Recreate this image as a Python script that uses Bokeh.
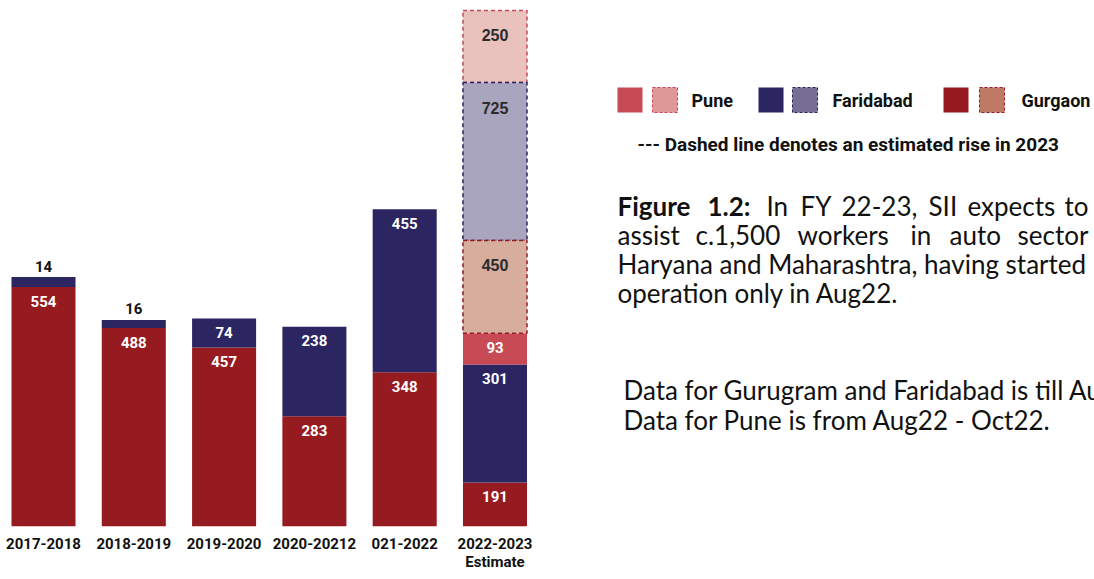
from bokeh.plotting import figure
from bokeh.models import ColumnDataSource, Range1d, FixedTicker, CDSView, BooleanFilter
from bokeh.layouts import row
from bokeh.transform import stack
from bokeh.core.properties import value
from bokeh.embed import file_html
from bokeh.resources import INLINE

# ---------------- data ----------------
categories = ["2017-2018", "2018-2019", "2019-2020", "2020-20212", "021-2022", "2022-2023\nEstimate"]

# values printed on the bars
gurgaon = [554, 488, 457, 283, 348, 191]
faridabad = [14, 16, 74, 238, 455, 301]
pune = [0, 0, 0, 0, 0, 93]
gurgaon_est = [0, 0, 0, 0, 0, 450]
faridabad_est = [0, 0, 0, 0, 0, 725]
pune_est = [0, 0, 0, 0, 0, 250]

# segment heights as drawn in the source (the source chart is not to scale)
gurgaon_drawn = [554, 459, 414, 255, 357, 102]
faridabad_drawn = [23, 19, 67, 207, 377, 273]
pune_drawn = [0, 0, 0, 0, 0, 72]
gurgaon_est_drawn = [0, 0, 0, 0, 0, 215]
faridabad_est_drawn = [0, 0, 0, 0, 0, 365]
pune_est_drawn = [0, 0, 0, 0, 0, 167]

legend_names = ["Pune", "Faridabad", "Gurgaon"]

# ---------------- styles ----------------
GURG = "#961B20"
FARI = "#2B2561"
PUNE = "#C84A55"
GURG_EST = "#D7AE9E"
FARI_EST = "#AAA5BE"
PUNE_EST = "#E9C2BE"
GURG_EST_LEG = "#BF7A66"
FARI_EST_LEG = "#776E96"
PUNE_EST_LEG = "#DE9897"
INK = "#111111"

H = 579
BOTTOM = 53
BAR_W = 0.709
x = list(range(len(categories)))

src = ColumnDataSource(dict(
    x=x, g=gurgaon_drawn, f=faridabad_drawn, pn=pune_drawn,
    ge=gurgaon_est_drawn, fe=faridabad_est_drawn, pe=pune_est_drawn,
))
names = ["g", "f", "pn", "ge", "fe", "pe"]
values = [gurgaon, faridabad, pune, gurgaon_est, faridabad_est, pune_est]
drawn = [gurgaon_drawn, faridabad_drawn, pune_drawn, gurgaon_est_drawn, faridabad_est_drawn, pune_est_drawn]
fills = [GURG, FARI, PUNE, GURG_EST, FARI_EST, PUNE_EST]
borders = [None, None, None, GURG, FARI, PUNE]

p = figure(width=553, height=H, x_range=Range1d(-0.4762, 5.648), y_range=Range1d(0, 1217),
           output_backend="svg", toolbar_location=None,
           min_border_left=0, min_border_right=0, min_border_top=0, min_border_bottom=BOTTOM)
p.outline_line_color = None
p.grid.visible = False
p.yaxis.visible = False

# draw order: solid first, then estimated (pune, faridabad, gurgaon) so dashed borders overlap as in source
order = [0, 1, 2, 5, 4, 3]
for i in order:
    view = CDSView(filter=BooleanFilter([v > 0 for v in drawn[i]]))
    kw = dict(x="x", width=BAR_W, top=stack(*names[:i + 1]), source=src, view=view,
              fill_color=fills[i])
    kw["bottom"] = stack(*names[:i]) if i > 0 else 0
    if borders[i] is None:
        kw["line_color"] = None
    else:
        kw.update(line_color=borders[i], line_width=1.5, line_dash="4 3")
    p.vbar(**kw)

# labels
inside = dict(x=[], y=[], t=[])
est = dict(x=[], y=[], t=[])
above = dict(x=[], y=[], t=[])
for j in x:
    cum = 0
    for i in range(len(names)):
        h = drawn[i][j]
        cum += h
        if values[i][j] <= 0:
            continue
        if i >= 3:
            tgt = est
        elif h < 30:
            tgt = above
        else:
            tgt = inside
        tgt["x"].append(j)
        tgt["y"].append(cum)
        tgt["t"].append(str(values[i][j]))

p.text(x="x", y="y", text="t", source=ColumnDataSource(inside), text_align="center",
       text_baseline="middle", y_offset=14, text_color="white", text_font=value("Roboto"),
       text_font_style="bold", text_font_size="15px")
p.text(x="x", y="y", text="t", source=ColumnDataSource(est), text_align="center",
       text_baseline="middle", y_offset=25, text_color="#2b2b2b", text_font=value("Liberation Sans"),
       text_font_style="bold", text_font_size="16px")
p.text(x="x", y="y", text="t", source=ColumnDataSource(above), text_align="center",
       text_baseline="middle", y_offset=-11, text_color=INK, text_font=value("Roboto"),
       text_font_style="bold", text_font_size="15px")

ax = p.xaxis[0]
ax.ticker = FixedTicker(ticks=x)
ax.major_label_overrides = {i: c for i, c in enumerate(categories)}
ax.axis_line_color = None
ax.major_tick_line_color = None
ax.minor_tick_line_color = None
ax.major_tick_out = 0
ax.major_tick_in = 0
ax.major_label_standoff = 8
ax.major_label_text_font = "Roboto"
ax.major_label_text_font_style = "bold"
ax.major_label_text_font_size = "15px"
ax.major_label_text_color = INK
ax.major_label_text_line_height = 1.0

# ---------------- right panel: legend and caption (coordinates = page pixels) ----------------
q = figure(width=1094 - 553, height=H, x_range=Range1d(553, 1094), y_range=Range1d(H - BOTTOM, 0),
           output_backend="svg", toolbar_location=None,
           min_border_left=0, min_border_right=0, min_border_top=0, min_border_bottom=BOTTOM,
           x_axis_type=None, y_axis_type=None)
q.outline_line_color = None
q.grid.visible = False

# legend swatches
q.quad(left=[617, 758, 943], right=[642, 783, 968], top=[87, 87, 87], bottom=[112, 112, 112],
       fill_color=[PUNE, FARI, GURG], line_color=None)
q.quad(left=[652, 792, 979], right=[677, 817, 1004], top=[87, 87, 87], bottom=[112, 112, 112],
       fill_color=[PUNE_EST_LEG, FARI_EST_LEG, GURG_EST_LEG], line_color=[PUNE, FARI, GURG],
       line_width=1, line_dash="3 2")
q.text(x=[691, 832, 1021], y=[100, 100, 100], text=legend_names, text_baseline="middle",
       text_font=value("Roboto"), text_font_style="bold", text_font_size="18px", text_color=INK)
q.text(x=[637], y=[144], text=["--- Dashed line denotes an estimated rise in 2023"], text_baseline="middle",
       text_font=value("Roboto"), text_font_style="bold", text_font_size="19px", text_color=INK)

FS = "26px"
common = dict(text_font=value("Lato"), text_font_size=FS, text_color=INK, text_baseline="alphabetic")
L = [205, 234, 263, 292]
# justified first two lines (word by word)
q.text(x=[617, 707], y=[L[0], L[0]], text=["Figure", "1.2:"], text_font_style="bold", **common)
l1_words = ["In", "FY", "22-23,", "SII", "expects", "to"]
l1_x = [766, 800, 841, 928, 967, 1064]
q.text(x=l1_x, y=[L[0]] * len(l1_x), text=l1_words, **common)
l2_words = ["assist", "c.1,500", "workers", "in", "auto", "sector"]
l2_x = [617, 695, 797, 910, 949, 1017]
q.text(x=l2_x, y=[L[1]] * len(l2_x), text=l2_words, **common)
q.text(x=[617, 617], y=[L[2], L[3]], text=["Haryana and Maharashtra, having started", "operation only in Aug22."],
       **common)
q.text(x=[623, 623], y=[389, 419],
       text=["Data for Gurugram and Faridabad is till Aug22.", "Data for Pune is from Aug22 - Oct22."],
       **common)

layout = row(p, q)
open("out.html", "w").write(file_html(layout, INLINE))
